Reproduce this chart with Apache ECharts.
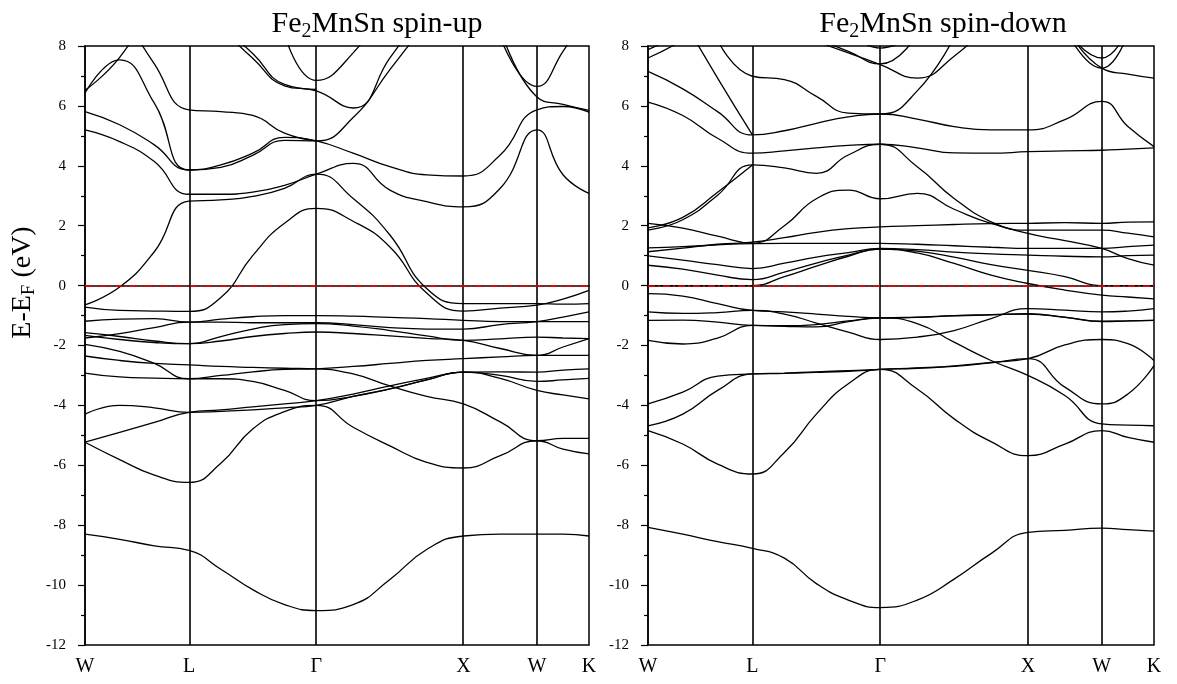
<!DOCTYPE html>
<html><head><meta charset="utf-8">
<script src="https://cdn.jsdelivr.net/npm/echarts@6/dist/echarts.min.js"></script>
<style>html,body{margin:0;padding:0;background:#fff}#c{width:1177px;height:684px}</style>
</head><body><div id="c"></div>
<script>
// k-path positions (2pi/a units) : W, L, Gamma, X, W, K with intermediate sample points
const kPath = [0, 0.2357, 0.4714, 0.7071, 0.9236, 1.1401, 1.3566, 1.5731, 1.8231, 2.0731, 2.3231, 2.5731, 2.8231, 3.0731, 3.2499, 3.4267];
const kTicks = [0, 0.7071, 1.5731, 2.5731, 3.0731, 3.4267];
const kTickLabels = ['W', 'L', 'Γ', 'X', 'W', 'K'];
const eMin = -12, eMax = 8, eStep = 2;

// ---- spin-up bands (eV) ----
const up01 = [-8.3, -8.47, -8.69, -8.84, -9.47, -10.15, -10.65, -10.85, -10.65, -9.81, -8.81, -8.36, -8.3, -8.3, -8.3, -8.36];
const up02 = [-5.23, -5.81, -6.33, -6.57, -5.93, -4.79, -4.21, -4.0, -4.73, -5.35, -5.9, -6.09, -5.68, -5.18, -5.46, -5.62];
const up03 = [-5.23, -4.9, -4.57, -4.23, -4.15, -4.05, -3.95, -3.84, -3.62, -3.35, -3.1, -2.89, -2.88, -2.89, -2.82, -2.78];
const up04 = [-4.29, -4.0, -4.08, -4.23, -4.2, -4.15, -4.08, -4.0, -3.7, -3.45, -3.15, -2.89, -3.0, -3.2, -3.15, -3.1];
const up05 = [-2.92, -3.05, -3.09, -3.11, -3.11, -3.2, -3.5, -3.84, -3.7, -3.45, -3.15, -2.89, -3.1, -3.5, -3.65, -3.78];
const up06 = [-2.35, -2.5, -2.6, -2.65, -2.7, -2.73, -2.76, -2.78, -2.95, -3.35, -3.7, -3.95, -4.55, -5.18, -5.1, -5.1];
const up07 = [-1.96, -2.2, -2.6, -3.11, -3.0, -2.88, -2.8, -2.78, -2.7, -2.6, -2.5, -2.44, -2.38, -2.33, -2.33, -2.33];
const up08 = [-1.19, -1.12, -1.1, -1.22, -1.12, -1.04, -1.0, -1.0, -1.02, -1.06, -1.1, -1.16, -1.2, -1.2, -1.2, -1.2];
const up09 = [-1.57, -1.7, -1.85, -1.94, -1.7, -1.45, -1.3, -1.27, -1.35, -1.5, -1.68, -1.83, -1.78, -1.72, -1.75, -1.77];
const up10 = [-1.66, -1.8, -1.9, -1.94, -1.85, -1.7, -1.6, -1.55, -1.6, -1.68, -1.76, -1.83, -2.1, -2.33, -2.05, -1.77];
const up11 = [-1.75, -1.6, -1.4, -1.22, -1.22, -1.24, -1.24, -1.24, -1.3, -1.4, -1.45, -1.45, -1.3, -1.2, -1.05, -0.88];
const up12 = [-0.72, -0.83, -0.85, -0.86, -0.4, 1.0, 2.08, 2.58, 2.15, 1.29, -0.25, -0.85, -0.75, -0.65, -0.45, -0.16];
const up13 = [-0.64, -0.05, 1.13, 2.82, 2.86, 2.98, 3.25, 3.72, 2.91, 1.69, -0.1, -0.6, -0.6, -0.6, -0.62, -0.6];
const up14 = [5.2, 4.81, 4.14, 3.05, 3.05, 3.12, 3.35, 3.72, 4.08, 3.19, 2.8, 2.63, 3.25, 5.2, 3.7, 3.08];
const up15 = [5.81, 5.37, 4.7, 3.86, 4.03, 4.42, 4.95, 4.83, 4.42, 3.97, 3.7, 3.66, 4.36, 5.87, 5.98, 5.79];
const up16 = [6.43, 7.54, 6.09, 3.86, 3.95, 4.35, 4.85, 4.83, 5.61, 7.21, 8.8, null, null, null, null, null];
const up17 = [6.52, 7.62, 9.5, null, null, null, null, null, null, null, null, null, null, null, null, null];
const up18 = [null, 9.3, 7.4, 5.87, 5.81, 5.68, 5.09, 4.83, null, null, null, null, null, null, null, null];
const up19 = [null, null, null, null, 8.6, 7.59, 6.67, 6.5, 5.93, 7.6, 9.3, null, null, null, null, null];
const up20 = [null, null, null, null, 8.7, 7.75, 6.72, 6.55, null, null, null, null, null, null, null, null];
const up21 = [null, null, null, null, null, null, 8.4, 6.85, 7.77, 9.5, null, null, null, null, null, null];
const up22 = [null, null, null, null, null, null, null, null, null, null, null, null, 8.3, 6.65, 7.82, 9.2];
const up23 = [null, null, null, null, null, null, null, null, null, null, null, null, 8.6, 6.3, 6.05, 5.85];

// ---- spin-down bands (eV) ----
const dn01 = [-8.07, -8.3, -8.55, -8.77, -9.1, -9.95, -10.5, -10.75, -10.5, -9.8, -8.95, -8.24, -8.17, -8.1, -8.15, -8.2];
const dn02 = [-4.84, -5.29, -5.96, -6.29, -5.57, -4.29, -3.28, -2.8, -3.45, -4.45, -5.21, -5.68, -5.29, -4.84, -5.07, -5.23];
const dn03 = [-4.68, -4.29, -3.5, -2.95, -2.92, -2.88, -2.84, -2.8, -2.76, -2.7, -2.58, -2.44, -3.39, -3.95, -3.62, -2.67];
const dn04 = [-3.95, -3.56, -3.02, -2.95, -2.93, -2.9, -2.86, -2.8, -2.75, -2.68, -2.56, -2.44, -1.98, -1.8, -1.94, -2.5];
const dn05 = [-1.16, -1.15, -1.22, -1.33, -1.34, -1.3, -1.18, -1.08, -1.27, -1.89, -2.5, -3.0, -3.67, -4.62, -4.66, -4.68];
const dn06 = [-1.83, -1.95, -1.75, -1.33, -1.36, -1.38, -1.2, -1.08, -1.06, -1.01, -0.98, -0.95, -1.06, -1.2, -1.18, -1.16];
const dn07 = [-0.88, -0.93, -0.9, -0.83, -0.95, -1.25, -1.55, -1.8, -1.72, -1.5, -1.1, -0.77, -0.82, -0.88, -0.85, -0.77];
const dn08 = [-0.27, -0.35, -0.6, -0.83, -0.88, -0.95, -1.03, -1.08, -1.05, -1.0, -0.97, -0.94, -1.05, -1.19, -1.18, -1.16];
const dn09 = [0.0, 0.0, 0.0, 0.0, 0.3, 0.65, 0.98, 1.22, 1.09, 0.74, 0.35, 0.07, -0.15, -0.32, -0.38, -0.44];
const dn10 = [0.68, 0.55, 0.35, 0.2, 0.45, 0.75, 1.02, 1.22, 1.15, 0.95, 0.7, 0.51, 0.3, 0.0, 0.0, 0.0];
const dn11 = [0.99, 0.85, 0.7, 0.57, 0.75, 0.95, 1.1, 1.24, 1.2, 1.12, 1.06, 1.02, 0.98, 0.96, 1.0, 1.02];
const dn12 = [1.26, 1.3, 1.36, 1.4, 1.41, 1.41, 1.41, 1.41, 1.38, 1.33, 1.28, 1.24, 1.24, 1.24, 1.3, 1.35];
const dn13 = [1.13, 1.25, 1.38, 1.45, 1.6, 1.78, 1.9, 1.96, 2.0, 2.04, 2.07, 2.08, 2.1, 2.08, 2.12, 2.13];
const dn14 = [2.08, 1.92, 1.65, 1.42, 2.0, 2.9, 3.19, 2.9, 3.08, 2.55, 2.08, 1.85, 1.85, 1.85, 1.75, 1.63];
const dn15 = [1.85, 2.2, 3.02, 4.03, 3.93, 3.75, 4.36, 4.72, 3.97, 2.91, 2.13, 1.74, 1.5, 1.24, 0.9, 0.68];
const dn16 = [1.93, 2.28, 3.12, 4.03, null, null, null, null, null, null, null, null, null, null, null, null];
const dn17 = [6.13, 5.68, 4.92, 4.42, 4.5, 4.6, 4.68, 4.72, 4.6, 4.43, 4.42, 4.47, 4.5, 4.52, 4.56, 4.6];
const dn18 = [7.15, 6.57, 5.81, 5.03, 5.17, 5.42, 5.63, 5.73, 5.56, 5.31, 5.2, 5.2, 5.54, 6.15, 5.31, 4.64];
const dn19 = [null, 8.9, 6.93, 5.03, null, null, null, null, null, null, null, null, null, null, null, null];
const dn20 = [null, null, 8.2, 6.99, 6.88, 6.32, 5.76, 5.73, 6.5, 8.3, null, null, null, null, null, null];
const dn21 = [7.88, 8.4, null, null, null, null, null, null, null, null, null, null, null, null, null, null];
const dn22 = [7.6, 8.2, 9.0, null, null, null, null, null, null, null, null, null, null, null, null, null];
const dn23 = [null, null, null, null, null, 8.15, 7.77, 7.38, 6.93, 7.66, 8.8, null, null, null, null, null];
const dn24 = [null, null, null, null, null, 8.25, 7.82, 7.4, 8.4, null, null, null, null, null, null, null];
const dn25 = [null, null, null, null, null, null, 8.5, 7.93, 8.5, null, null, null, null, null, null, null];
const dn26 = [null, null, null, null, null, null, null, null, null, null, null, null, 8.7, 7.26, 7.06, 6.93];
const dn27 = [null, null, null, null, null, null, null, null, null, null, null, null, 8.6, 7.26, 8.4, null];
const dn28 = [null, null, null, null, null, null, null, null, null, null, null, null, 8.6, 7.6, 8.6, null];

const upBands = [up01, up02, up03, up04, up05, up06, up07, up08, up09, up10, up11, up12, up13, up14, up15, up16, up17, up18, up19, up20, up21, up22, up23];
const dnBands = [dn01, dn02, dn03, dn04, dn05, dn06, dn07, dn08, dn09, dn10, dn11, dn12, dn13, dn14, dn15, dn16, dn17, dn18, dn19, dn20, dn21, dn22, dn23, dn24, dn25, dn26, dn27, dn28];

const chart = echarts.init(document.getElementById('c'), null, {renderer: 'canvas'});
const serif = 'Liberation Serif';

function bandSeries(bands, idx) {
  return bands.map(function (b, j) {
    const data = [];
    kPath.forEach(function (k, i) { if (b[i] !== null) data.push([k, b[i]]); });
    const s = {
      type: 'line', xAxisIndex: idx, yAxisIndex: idx, data: data,
      showSymbol: false, symbol: 'none', smooth: 0.5,
      lineStyle: {color: '#000', width: 1.3}, silent: true, animation: false, z: 3
    };
    if (j === 0) {
      s.markLine = {
        silent: true, symbol: ['none', 'none'], label: {show: false}, animation: false,
        data: kTicks.slice(1, 5).map(function (v) {
          return {xAxis: v, lineStyle: {color: '#000', width: 1.6, type: 'solid'}};
        }).concat([{yAxis: 0, lineStyle: {color: '#ff0000', width: 1.5, type: [7, 3, 2, 3]}}])
      };
    }
    return s;
  });
}

function xAxisOpt(idx) {
  return {
    type: 'value', gridIndex: idx, min: kTicks[0], max: kTicks[5],
    axisLine: {show: true, lineStyle: {color: '#000', width: 1.5}},
    axisTick: {show: false}, splitLine: {show: false},
    axisLabel: {
      customValues: kTicks, color: '#000', fontFamily: serif, fontSize: 20, margin: 12,
      formatter: function (v) {
        let best = 0;
        kTicks.forEach(function (t, i) { if (Math.abs(t - v) < Math.abs(kTicks[best] - v)) best = i; });
        return kTickLabels[best];
      }
    }
  };
}
function yAxisOpt(idx, withName) {
  const o = {
    type: 'value', gridIndex: idx, min: eMin, max: eMax, interval: eStep,
    axisLine: {show: true, lineStyle: {color: '#000', width: 1.5}},
    axisTick: {show: true, inside: false, length: 7, lineStyle: {color: '#000', width: 1.2}},
    minorTick: {show: true, splitNumber: 2, length: 4, lineStyle: {color: '#000', width: 1.2}},
    splitLine: {show: false},
    axisLabel: {color: '#000', fontFamily: serif, fontSize: 15, margin: 19}
  };
  if (withName) {
    o.name = 'E-E{s|F} (eV)';
    o.nameLocation = 'middle';
    o.nameGap = 46;
    o.nameRotate = 90;
    o.nameTextStyle = {color: '#000', fontFamily: serif, fontSize: 28, fontWeight: 'normal',
      padding: [0, 0, 0, 126],
      rich: {s: {fontFamily: serif, fontSize: 19, padding: [14, 0, 0, 0], color: '#000'}}};
  }
  return o;
}
function titleOpt(x, txt) {
  return {
    text: '{a|Fe}{s|2}{a|' + txt + '}', left: x, top: 1, textAlign: 'center',
    textStyle: {fontWeight: 'normal', rich: {
      a: {fontFamily: serif, fontSize: 30, color: '#000', fontWeight: 'normal'},
      s: {fontFamily: serif, fontSize: 20, color: '#000', fontWeight: 'normal', padding: [16, 0, 0, 0]}
    }}
  };
}

chart.setOption({
  animation: false,
  backgroundColor: '#fff',
  title: [titleOpt(372, 'MnSn spin-up'), titleOpt(938, 'MnSn spin-down')],
  grid: [
    {left: 85, top: 46, width: 504, height: 599, show: true, borderColor: '#000', borderWidth: 1.5, backgroundColor: 'transparent'},
    {left: 648, top: 46, width: 506, height: 599, show: true, borderColor: '#000', borderWidth: 1.5, backgroundColor: 'transparent'}
  ],
  xAxis: [xAxisOpt(0), xAxisOpt(1)],
  yAxis: [yAxisOpt(0, true), yAxisOpt(1, false)],
  series: bandSeries(upBands, 0).concat(bandSeries(dnBands, 1))
});
</script></body></html>
